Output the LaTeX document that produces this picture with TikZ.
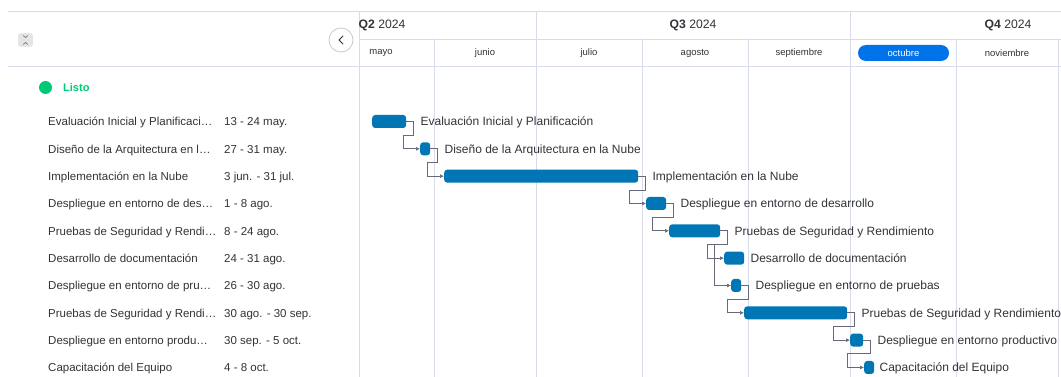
\documentclass[tikz,border=0pt]{standalone}
\usepackage{fontspec}
\setmainfont{Liberation Sans}
\usetikzlibrary{arrows.meta,calc,positioning}
\definecolor{gridline}{RGB}{216,219,235}
\definecolor{barblue}{RGB}{0,118,180}
\definecolor{linkgray}{RGB}{103,104,121}
\definecolor{txt}{RGB}{50,51,56}
\definecolor{done}{RGB}{0,200,117}
\definecolor{pill}{RGB}{0,115,234}

\begin{document}
\begin{tikzpicture}[
  x=1pt, y=-1pt,
  >=Stealth,
  grid/.style={draw=gridline, line width=0.8pt},
  bar/.style={fill=barblue, rounded corners=3pt, minimum height=13pt, inner sep=0pt, anchor=west},
  link/.style={-{Latex[length=4pt,width=4pt]}, draw=linkgray, line width=0.7pt},
  tlabel/.style={font=\fontsize{12}{14}\selectfont, text=txt, inner sep=0pt, text height=9pt, text depth=0pt},
  rowlabel/.style={font=\fontsize{11.5}{14}\selectfont, text=txt, inner sep=0pt, anchor=west, text height=9pt, text depth=0pt},
  month/.style={font=\fontsize{9.5}{11}\selectfont, text=txt, inner sep=0pt},
  quarter/.style={font=\fontsize{12.2}{14}\selectfont, text=txt, inner sep=0pt}
]
\clip (0,0) rectangle (1061,377);

% --- parameters ---
\def\top{11}       % top rule
\def\mid{39}       % quarter / month rule
\def\head{66}      % bottom of header
\def\split{359}    % left panel | chart
\def\dy{27.33}     % row pitch

% --- grid ---
\draw[grid] (8,\top) -- (1061,\top);
\draw[grid] (8,\head) -- (1061,\head);
\draw[grid] (\split,\mid) -- (1061,\mid);
\draw[grid] (\split,\top) -- (\split,377);
\foreach \x in {536,850}
  \draw[grid] (\x,\top) -- (\x,377);
\foreach \x in {434,642,748,956,1058}
  \draw[grid] (\x,\mid) -- (\x,377);

% --- header: quarters and months ---
\begin{scope}
  \clip (\split,0) rectangle (1061,\mid);
  \node[quarter] (q2) at (382,25) {\textbf{Q2} 2024};
  \node[quarter] (q3) at (693,25) {\textbf{Q3} 2024};
  \node[quarter] (q4) at (1008,25) {\textbf{Q4} 2024};
\end{scope}
\foreach \m/\xc in {mayo/381,junio/485,julio/589,agosto/695,septiembre/799,noviembre/1007}
  \node[month] (m-\m) at (\xc,53) {\m};
\fill[pill, rounded corners=8pt] (858,45) rectangle (949,61);
\node[month, text=white] (m-octubre) at (903.5,53) {octubre};

% --- left panel controls ---
\fill[gray!20, rounded corners=3pt] (18,33) rectangle (33,47);
\draw[linkgray, line width=0.6pt] (23,35.5) -- (25.5,37.5) -- (28,35.5)
                                  (23,44.5) -- (25.5,42.5) -- (28,44.5);
\draw[gridline!80!gray, line width=0.8pt, fill=white] (341,40) circle (12);
\draw[txt, line width=0.8pt] (343,36) -- (339,40) -- (343,44);

% --- group ---
\fill[done] (45.5,87.5) circle (6.5);
\node[font=\fontsize{11}{13}\selectfont\bfseries, text=done, inner sep=0pt, anchor=west] (group) at (63,88) {Listo};

% --- left panel rows ---
\foreach \i/\name/\date in {
  1/Evaluación Inicial y Planificaci…/13 - 24 may.,
  2/Diseño de la Arquitectura en l…/27 - 31 may.,
  3/Implementación en la Nube/3 jun. - 31 jul.,
  4/Despliegue en entorno de des…/1 - 8 ago.,
  5/Pruebas de Seguridad y Rendi…/8 - 24 ago.,
  6/Desarrollo de documentación/24 - 31 ago.,
  7/Despliegue en entorno de pru…/26 - 30 ago.,
  8/Pruebas de Seguridad y Rendi…/30 ago. - 30 sep.,
  9/Despliegue en entorno produ…/30 sep. - 5 oct.,
  10/Capacitación del Equipo/4 - 8 oct.} {
  \pgfmathsetmacro\y{121.5+\dy*(\i-1)}
  \node[rowlabel] (name\i) at (48,\y) {\name};
  \node[rowlabel] (date\i) at (224,\y) {\date};
}

% --- bars and their labels ---
\foreach \i/\xs/\xe/\gap/\name in {
  1/372/406/14/Evaluación Inicial y Planificación,
  2/420/430/14/Diseño de la Arquitectura en la Nube,
  3/444/638/14/Implementación en la Nube,
  4/646/666/14/Despliegue en entorno de desarrollo,
  5/669/720/14/Pruebas de Seguridad y Rendimiento,
  6/724/744/6/Desarrollo de documentación,
  7/731/741/14/Despliegue en entorno de pruebas,
  8/744/847/14/Pruebas de Seguridad y Rendimiento,
  9/850/863/14/Despliegue en entorno productivo,
  10/864/874/5/Capacitación del Equipo} {
  \pgfmathsetmacro\y{121.5+\dy*(\i-1)}
  \node[bar, minimum width={\xe-\xs}] (bar\i) at (\xs,\y) {};
  \node[tlabel, right=\gap pt of bar\i] (lab\i) {\name};
}

% --- dependencies ---
\foreach \a/\b in {1/2,2/3,3/4,4/5,5/6,5/7,7/8,8/9,9/10}
  \draw[link] (bar\a.east) -- ++(7,0) -- ++(0,13.7)
    -| ($(bar\b.west)+(-17pt,0)$) -- (bar\b.west);

\end{tikzpicture}
\end{document}
